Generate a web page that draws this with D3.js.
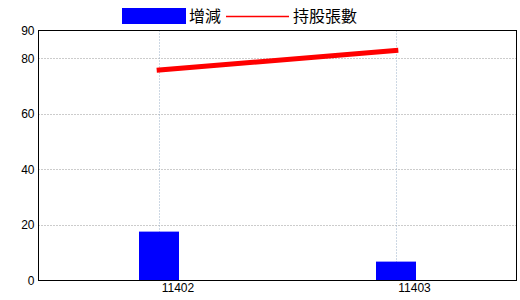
<!DOCTYPE html>
<html><head><meta charset="utf-8">
<script src="https://cdn.jsdelivr.net/npm/d3@7"></script>
<style>body{margin:0;background:#fff}svg{display:block}</style>
</head><body>
<svg id="c" width="520" height="300"></svg>
<script>
const categories = ["11402", "11403"];
const changeValues = [17.6, 6.8];
const sharesValues = [75.8, 82.8];
const yTicks = [0, 20, 40, 60, 80, 90];
const legendLabels = ["增減", "持股張數"];

const svg = d3.select("#c");
const L = 38.5, R = 516.5, T = 30.5, B = 280.5;
const x = d3.scalePoint().domain(categories).range([L, R]).padding(0.51);
const y = d3.scaleLinear().domain([0, 90]).range([B, T]);

// gridlines
svg.append("g").selectAll("line").data(yTicks.filter(d => d > 0 && d < 90)).join("line")
  .attr("x1", L).attr("x2", R).attr("y1", d => Math.round(y(d)) + 0.5).attr("y2", d => Math.round(y(d)) + 0.5)
  .attr("stroke", "#999").attr("stroke-dasharray", "1,2");
svg.append("g").selectAll("line").data(categories).join("line")
  .attr("x1", d => Math.round(x(d)) + 0.5).attr("x2", d => Math.round(x(d)) + 0.5).attr("y1", T).attr("y2", B)
  .attr("stroke", "#9ab0c8").attr("stroke-dasharray", "1,2");

// bars
const bw = 40;
svg.append("g").selectAll("rect").data(categories).join("rect")
  .attr("x", d => Math.round(x(d)) - bw / 2).attr("width", bw)
  .attr("y", (d, i) => y(changeValues[i])).attr("height", (d, i) => B - y(changeValues[i]))
  .attr("fill", "#0000ff");

// line
const line = d3.line().x((d, i) => x(categories[i])).y(d => y(d));
svg.append("path").datum(sharesValues).attr("d", line)
  .attr("fill", "none").attr("stroke", "#ff0000").attr("stroke-width", 5).attr("stroke-linecap", "square");

// frame
svg.append("rect").attr("x", L).attr("y", T).attr("width", R - L).attr("height", B - T)
  .attr("fill", "none").attr("stroke", "#000").attr("stroke-width", 1);

// y axis labels
const yAxis = d3.axisLeft(y).tickValues(yTicks).tickSize(0).tickPadding(4);
const ya = svg.append("g").attr("transform", `translate(${L},0)`).call(yAxis);
ya.select(".domain").remove();
ya.selectAll("text").attr("font-family", "Liberation Sans, Arial, sans-serif").attr("font-size", 12).attr("fill", "#000");

// x axis labels
const xAxis = d3.axisBottom(x).tickSize(0).tickPadding(3);
const xa = svg.append("g").attr("transform", `translate(0,${B})`).call(xAxis);
xa.select(".domain").remove();
xa.selectAll("text").attr("text-anchor", "start").attr("dx", 2)
  .attr("font-family", "Liberation Sans, Arial, sans-serif").attr("font-size", 12).attr("fill", "#000");

// legend
const lg = svg.append("g");
lg.append("rect").attr("x", 122).attr("y", 8).attr("width", 64).attr("height", 16).attr("fill", "#0000ff");
lg.append("text").attr("x", 189).attr("y", 22).text(legendLabels[0])
  .attr("font-family", "Noto Sans CJK TC").attr("font-size", 16).attr("fill", "#000");
lg.append("line").attr("x1", 226).attr("x2", 289).attr("y1", 16.5).attr("y2", 16.5).attr("stroke", "#ff0000").attr("stroke-width", 1.5);
lg.append("text").attr("x", 293).attr("y", 22).text(legendLabels[1])
  .attr("font-family", "Noto Sans CJK TC").attr("font-size", 16).attr("fill", "#000");
</script>
</body></html>
